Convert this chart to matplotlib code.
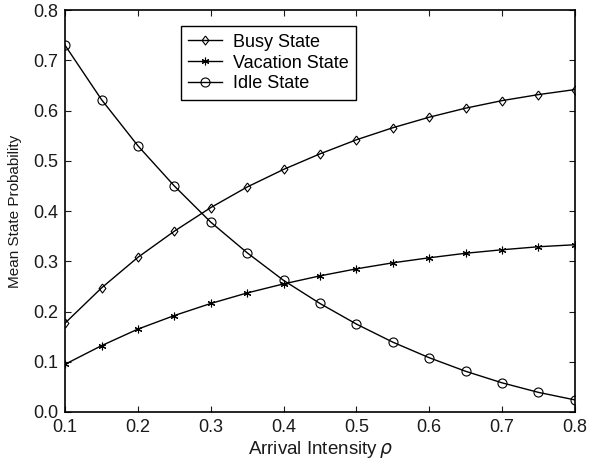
import numpy as np
import matplotlib.pyplot as plt
from matplotlib.ticker import FormatStrFormatter

plt.rcParams['font.family'] = ['Liberation Sans', 'DejaVu Sans']

# Arrival intensity values.
rho = [0.1, 0.15, 0.2, 0.25, 0.3, 0.35, 0.4, 0.45, 0.5, 0.55, 0.6, 0.65, 0.7, 0.75, 0.8]

# Mean state probabilities.
busy = [0.177, 0.247, 0.308, 0.360, 0.407, 0.448, 0.483, 0.514, 0.542, 0.566,
        0.587, 0.605, 0.620, 0.632, 0.642]
vacation = [0.095, 0.132, 0.165, 0.192, 0.216, 0.237, 0.255, 0.271, 0.285, 0.297,
            0.307, 0.316, 0.323, 0.329, 0.333]
idle = [0.730, 0.622, 0.530, 0.450, 0.378, 0.317, 0.262, 0.216, 0.175, 0.139,
        0.108, 0.081, 0.058, 0.039, 0.024]

fig = plt.figure(figsize=(5.92, 4.66), dpi=100)
ax = fig.add_axes([0.110, 0.116, 0.861, 0.862])

# MATLAB-like diamond, a little taller than wide.
diamond = [(0, 1), (0.75, 0), (0, -1), (-0.75, 0), (0, 1)]

line_kw = dict(color='black', linewidth=1.0, markerfacecolor='none',
               markeredgecolor='black', markeredgewidth=0.8)
ax.plot(rho, busy, marker=diamond, markersize=6.5, label='Busy State', **line_kw)
ax.plot(rho, vacation, marker=(6, 2, 0), markersize=5.5, label='Vacation State', **line_kw)
ax.plot(rho, idle, marker='o', markersize=6.5, label='Idle State', **line_kw)

ax.set_xlim(0.1, 0.8)
ax.set_ylim(0.0, 0.8)
ax.set_xticks(np.arange(0.1, 0.81, 0.1))
ax.set_yticks(np.arange(0.0, 0.81, 0.1))
ax.xaxis.set_major_formatter(FormatStrFormatter('%.1f'))
ax.yaxis.set_major_formatter(FormatStrFormatter('%.1f'))
ax.tick_params(direction='in', top=True, right=True, length=4, width=0.8,
               labelsize=13, colors='#1a1a1a', pad=5)
for spine in ax.spines.values():
    spine.set_linewidth(1.2)

ax.set_xlabel(r'Arrival Intensity$\,\rho$', fontsize=13.5, color='#1a1a1a', labelpad=2)
ax.set_ylabel('Mean State Probability', fontsize=11, color='#1a1a1a', labelpad=8)

leg = ax.legend(loc='upper left', bbox_to_anchor=(0.227, 0.96), fontsize=13,
                fancybox=False, edgecolor='black', framealpha=1,
                handlelength=1.9, borderpad=0.4, labelspacing=0.22,
                borderaxespad=0, handletextpad=0.6)
leg.get_frame().set_linewidth(1.0)

fig.savefig('out.png', dpi=100)
